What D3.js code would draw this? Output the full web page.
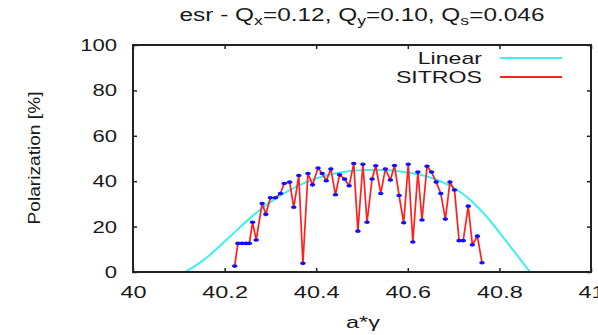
<!DOCTYPE html>
<html>
<head>
<meta charset="utf-8">
<script src="https://cdn.jsdelivr.net/npm/d3@7"></script>
<style>
  body { margin: 0; background: #fff; }
  svg { font-family: "Liberation Sans", Arial, sans-serif; }
</style>
</head>
<body>
<div id="chart"></div>
<script>
// x ticks / y ticks
const xTicks = [40, 40.2, 40.4, 40.6, 40.8, 41];
const yTicks = [0, 20, 40, 60, 80, 100];

// "Linear" curve
const linearX = [40.114, 40.154, 40.19, 40.227, 40.263, 40.3, 40.336, 40.372, 40.409, 40.44, 40.475, 40.51, 40.55, 40.584, 40.62, 40.656, 40.69, 40.72, 40.736, 40.773, 40.809, 40.845, 40.867];
const linearY = [0, 4.8, 11.5, 18.5, 25.2, 31, 35.6, 39.2, 41.9, 43.5, 44.6, 45, 45, 44.4, 43.3, 41.4, 38.4, 34.6, 31.9, 24.6, 15, 5.8, 0];

// SITROS points
const sitrosX = [40.222, 40.229, 40.238, 40.247, 40.254, 40.261, 40.269, 40.282, 40.29, 40.3,
  40.311, 40.322, 40.33, 40.342, 40.351, 40.362, 40.371, 40.382, 40.392, 40.404,
  40.413, 40.422, 40.432, 40.442, 40.451, 40.462, 40.472, 40.482, 40.491, 40.502,
  40.511, 40.522, 40.53, 40.541, 40.551, 40.562, 40.571, 40.581, 40.591, 40.601,
  40.611, 40.622, 40.631, 40.642, 40.652, 40.662, 40.672, 40.682, 40.692, 40.702,
  40.712, 40.721, 40.732, 40.741, 40.752, 40.762];
const sitrosY = [2.6, 12.6, 12.6, 12.6, 12.6, 21.9, 14.1, 30.2, 25.4, 32.7,
  32.7, 34.6, 39, 39.6, 28.5, 42.5, 3.8, 43.4, 38.4, 45.8,
  43.4, 40.2, 45.4, 34, 42.8, 40.9, 38, 47.8, 18, 47.5,
  21.9, 41, 46.8, 34.6, 45.4, 40.5, 46.9, 33.7, 21.7, 47.5,
  13.2, 44, 22.9, 46.6, 44, 39.6, 34.6, 23.3, 39.6, 36.1,
  13.8, 13.8, 29, 12, 15.8, 4.1];

const W = 598, H = 335;
const mLeft = 133, mRight = 591, mTop = 45, mBottom = 272;
const textColor = '#1a1a1a';

const svg = d3.select('#chart').append('svg')
  .attr('width', W)
  .attr('height', H);

const x = d3.scaleLinear().domain([40, 41]).range([mLeft, mRight]);
const y = d3.scaleLinear().domain([0, 100]).range([mBottom, mTop]);

// the source picture is stretched sideways, so widen the glyphs to match
function stretch(sel, k) {
  sel.each(function () {
    const w = this.getComputedTextLength();
    d3.select(this).attr('textLength', w * k).attr('lengthAdjust', 'spacingAndGlyphs');
  });
}

// title
const title = svg.append('text')
  .attr('x', 362).attr('y', 21)
  .attr('text-anchor', 'middle')
  .attr('font-size', 18)
  .attr('fill', textColor);
title.append('tspan').text('esr - Q');
title.append('tspan').attr('font-size', 13).attr('dy', 4).text('x');
title.append('tspan').attr('dy', -4).text('=0.12, Q');
title.append('tspan').attr('font-size', 13).attr('dy', 4).text('y');
title.append('tspan').attr('dy', -4).text('=0.10, Q');
title.append('tspan').attr('font-size', 13).attr('dy', 4).text('s');
title.append('tspan').attr('dy', -4).text('=0.046');
title.attr('textLength', 365).attr('lengthAdjust', 'spacingAndGlyphs');

// clip for data
svg.append('clipPath').attr('id', 'plot')
  .append('rect')
  .attr('x', mLeft).attr('y', mTop)
  .attr('width', mRight - mLeft).attr('height', mBottom - mTop);

const plot = svg.append('g').attr('clip-path', 'url(#plot)');

const linearData = linearX.map((d, i) => [d, linearY[i]]);
const sitrosData = sitrosX.map((d, i) => [d, sitrosY[i]]);

plot.append('path')
  .datum(linearData)
  .attr('fill', 'none')
  .attr('stroke', '#3ff0f0')
  .attr('stroke-width', 2)
  .attr('d', d3.line()
    .x(d => x(d[0]))
    .y(d => y(d[1]))
    .curve(d3.curveBasis));

plot.append('path')
  .datum(sitrosData)
  .attr('fill', 'none')
  .attr('stroke', '#ff2020')
  .attr('stroke-width', 1.7)
  .attr('d', d3.line()
    .x(d => x(d[0]))
    .y(d => y(d[1])));

plot.selectAll('.pt')
  .data(sitrosData)
  .enter().append('ellipse')
  .attr('class', 'pt')
  .attr('cx', d => x(d[0]))
  .attr('cy', d => y(d[1]))
  .attr('rx', 2.8)
  .attr('ry', 1.8)
  .attr('fill', '#1010ff');

// axes (gnuplot style, inward ticks on all sides)
const tickLen = 4;
const xAxis = svg.append('g')
  .attr('transform', `translate(0, ${mBottom})`)
  .call(d3.axisBottom(x).tickValues(xTicks).tickSize(-tickLen).tickPadding(14)
    .tickFormat(d3.format('')))
  .call(g => g.select('.domain').remove());
svg.append('g')
  .attr('transform', `translate(0, ${mTop})`)
  .call(d3.axisTop(x).tickValues(xTicks).tickSize(-tickLen).tickFormat(''))
  .call(g => g.select('.domain').remove());
const yAxis = svg.append('g')
  .attr('transform', `translate(${mLeft}, 0)`)
  .call(d3.axisLeft(y).tickValues(yTicks).tickSize(-tickLen).tickPadding(16))
  .call(g => g.select('.domain').remove());
svg.append('g')
  .attr('transform', `translate(${mRight}, 0)`)
  .call(d3.axisRight(y).tickValues(yTicks).tickSize(-tickLen).tickFormat(''))
  .call(g => g.select('.domain').remove());

svg.selectAll('.tick line').attr('stroke', '#222').attr('stroke-width', 1.5);
svg.selectAll('.tick text')
  .attr('font-size', 17)
  .attr('font-family', '"Liberation Sans", Arial, sans-serif')
  .attr('fill', textColor);
stretch(xAxis.selectAll('.tick text'), 1.38);
stretch(yAxis.selectAll('.tick text'), 1.3);

svg.append('rect')
  .attr('x', mLeft).attr('y', mTop)
  .attr('width', mRight - mLeft).attr('height', mBottom - mTop)
  .attr('fill', 'none')
  .attr('stroke', '#222')
  .attr('stroke-width', 2);

// axis labels
svg.append('text')
  .attr('x', 363).attr('y', 328)
  .attr('text-anchor', 'middle')
  .attr('font-size', 17)
  .attr('fill', textColor)
  .text('a*γ')
  .call(s => stretch(s, 1.38));

svg.append('text')
  .attr('transform', 'translate(40, 158) rotate(-90)')
  .attr('text-anchor', 'middle')
  .attr('font-size', 17)
  .attr('fill', textColor)
  .text('Polarization [%]')
  .call(s => s.attr('textLength', 133).attr('lengthAdjust', 'spacingAndGlyphs'));

// legend
const legend = [
  { name: 'Linear', color: '#3ff0f0', y: 58 },
  { name: 'SITROS', color: '#ff2020', y: 77 }
];
legend.forEach(l => {
  svg.append('text')
    .attr('x', 482).attr('y', l.y + 6)
    .attr('text-anchor', 'end')
    .attr('font-size', 17)
    .attr('fill', textColor)
    .text(l.name)
    .call(s => stretch(s, 1.36));
  svg.append('line')
    .attr('x1', 500).attr('x2', 562)
    .attr('y1', l.y).attr('y2', l.y)
    .attr('stroke', l.color)
    .attr('stroke-width', 2);
});
</script>
</body>
</html>
